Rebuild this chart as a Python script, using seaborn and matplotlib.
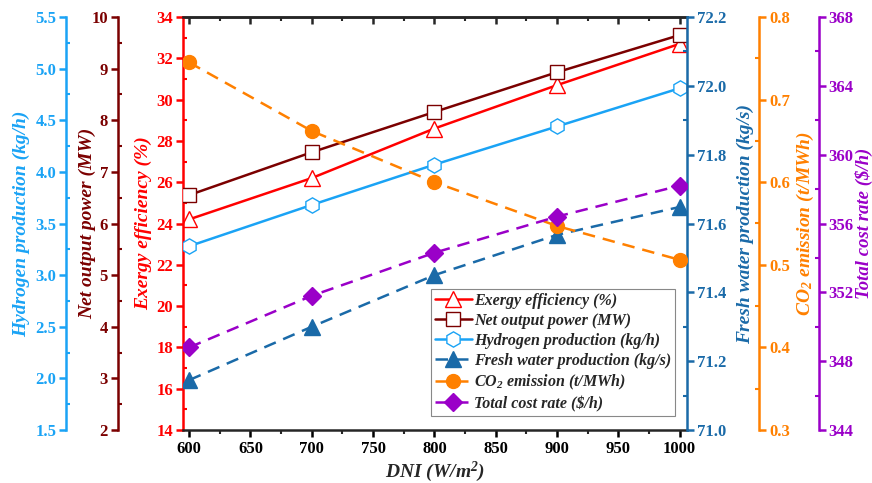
import numpy as np
import matplotlib
matplotlib.use("Agg")
import matplotlib.pyplot as plt
from matplotlib.ticker import MultipleLocator
import seaborn as sns

sns.set_style("ticks")
plt.rcParams["font.family"] = ["Liberation Serif", "DejaVu Serif"]
plt.rcParams["font.weight"] = "bold"
plt.rcParams["mathtext.fontset"] = "custom"
plt.rcParams["mathtext.rm"] = "Liberation Serif:bold:italic"
plt.rcParams["mathtext.it"] = "Liberation Serif:bold:italic"

# data
dni = [600, 700, 800, 900, 1000]
exergy = [24.2, 26.2, 28.6, 30.7, 32.7]
net_power = [6.55, 7.38, 8.16, 8.93, 9.65]
hydrogen = [3.28, 3.68, 4.07, 4.44, 4.81]
fresh_water = [71.145, 71.30, 71.45, 71.567, 71.648]
co2 = [0.745, 0.662, 0.600, 0.547, 0.506]
cost = [348.8, 351.8, 354.3, 356.4, 358.2]

c_red = "#FF0000"
c_dred = "#7B0000"
c_lblue = "#1AA3F5"
c_dblue = "#1A6AA8"
c_orange = "#FF8000"
c_purple = "#9A00C8"

L, R, B, T = 183, 687, 430, 17
fig = plt.figure(figsize=(8.72, 4.83), dpi=100)
ax = fig.add_axes([L / 872, 1 - B / 483, (R - L) / 872, (B - T) / 483])

fs_tick = 12
fs_lab = 14


def style_axis(a, side, color, offset, lim, major, minor, label, label_px,
               lab_size=fs_lab):
    for s in ["left", "right", "top", "bottom"]:
        if s != side and a is not ax:
            a.spines[s].set_visible(False)
    a.spines[side].set_visible(True)
    a.spines[side].set_color(color)
    a.spines[side].set_linewidth(1.8)
    if offset:
        a.spines[side].set_position(("outward", offset))
    a.yaxis.set_ticks_position(side)
    a.yaxis.set_label_position(side)
    a.set_ylim(*lim)
    a.yaxis.set_major_locator(MultipleLocator(major))
    a.yaxis.set_minor_locator(MultipleLocator(minor))
    a.tick_params(axis="y", which="major", direction="out", length=5, width=1.8,
                  colors=color, labelsize=fs_tick, pad=2)
    a.tick_params(axis="y", which="minor", direction="in", length=3, width=1.5,
                  colors=color)
    for t in a.get_yticklabels():
        t.set_fontweight("bold")
    a.set_ylabel(label, color=color, fontsize=lab_size, fontweight="bold",
                 fontstyle="italic", va="center")
    a.yaxis.set_label_coords((label_px - L) / (R - L), 0.5)


def draw(a, y, color, marker, ms, filled, dashed, label):
    sns.lineplot(x=dni, y=y, ax=a, color=color, marker=marker, markersize=ms,
                 markerfacecolor=color if filled else "white",
                 markeredgecolor=color, markeredgewidth=1.0,
                 linewidth=1.8, label=label, legend=False)
    line = a.lines[-1]
    if dashed:
        line.set_dashes([5, 3.2])
    return line


# main axis: exergy
ax.set_xlim(595, 1006)
ax.xaxis.set_major_locator(MultipleLocator(50))
ax.xaxis.set_minor_locator(MultipleLocator(25))
ax.tick_params(axis="x", which="major", direction="out", length=5, width=1.8,
               labelsize=fs_tick, colors="black", pad=3)
ax.tick_params(axis="x", which="minor", direction="out", length=3, width=1.5)
ax.spines["bottom"].set_linewidth(1.8)
ax.spines["top"].set_linewidth(1.8)
ax.spines["right"].set_visible(False)
ax.set_xlabel(r"DNI (W/m$^\mathrm{2}$)", fontsize=fs_lab, fontweight="bold",
              fontstyle="italic", labelpad=2)
for t in ax.get_xticklabels():
    t.set_fontweight("bold")
style_axis(ax, "left", c_red, 0, (14, 34), 2, 1, "Exergy efficiency (%)", 143)

top = ax.secondary_xaxis("top")
top.xaxis.set_major_locator(MultipleLocator(50))
top.xaxis.set_minor_locator(MultipleLocator(25))
top.tick_params(axis="x", which="major", direction="in", length=5, width=1.8,
                labeltop=False)
top.tick_params(axis="x", which="minor", direction="in", length=3, width=1.5)
top.spines["top"].set_linewidth(1.8)

# left twins
ax_np = ax.twinx()
style_axis(ax_np, "left", c_dred, 47, (2, 10), 1, 0.5,
           "Net output power (MW)", 88)
ax_h2 = ax.twinx()
style_axis(ax_h2, "left", c_lblue, 84, (1.5, 5.5), 0.5, 0.25,
           "Hydrogen production (kg/h)", 21)

# right twins
ax_fw = ax.twinx()
style_axis(ax_fw, "right", c_dblue, 0, (71.0, 72.2), 0.2, 0.1,
           "Fresh water production (kg/s)", 745)
ax_co = ax.twinx()
style_axis(ax_co, "right", c_orange, 52, (0.3, 0.8), 0.1, 0.05,
           r"CO$_\mathrm{2}$ emission (t/MWh)", 805)
ax_tc = ax.twinx()
style_axis(ax_tc, "right", c_purple, 95, (344, 368), 4, 2,
           "Total cost rate ($/h)", 864, lab_size=13.5)

for a in [ax_np, ax_h2, ax_fw, ax_co, ax_tc]:
    a.set_xlim(595, 1006)

handles = [
    draw(ax, exergy, c_red, "^", 11, False, False, "Exergy efficiency (%)"),
    draw(ax_np, net_power, c_dred, "s", 10, False, False, "Net output power (MW)"),
    draw(ax_h2, hydrogen, c_lblue, "h", 11, False, False, "Hydrogen production (kg/h)"),
    draw(ax_fw, fresh_water, c_dblue, "^", 11, True, True, "Fresh water production (kg/s)"),
    draw(ax_co, co2, c_orange, "o", 10, True, True, r"CO$_\mathrm{2}$ emission (t/MWh)"),
    draw(ax_tc, cost, c_purple, "D", 9, True, True, "Total cost rate ($/h)"),
]

leg = ax_tc.legend(handles=handles, labels=[h.get_label() for h in handles],
                   loc="lower left", bbox_to_anchor=(431 / 872, 1 - 416 / 483),
                   bbox_transform=fig.transFigure, frameon=True, fancybox=False,
                   edgecolor="#888888", framealpha=1,
                   prop={"family": "Liberation Serif", "weight": "bold",
                         "style": "italic", "size": 11.5},
                   handlelength=2.3, handletextpad=0.15, labelspacing=0.25,
                   borderpad=0.25, borderaxespad=0)
leg.get_frame().set_linewidth(0.8)

fig.savefig("out.png", dpi=100)
